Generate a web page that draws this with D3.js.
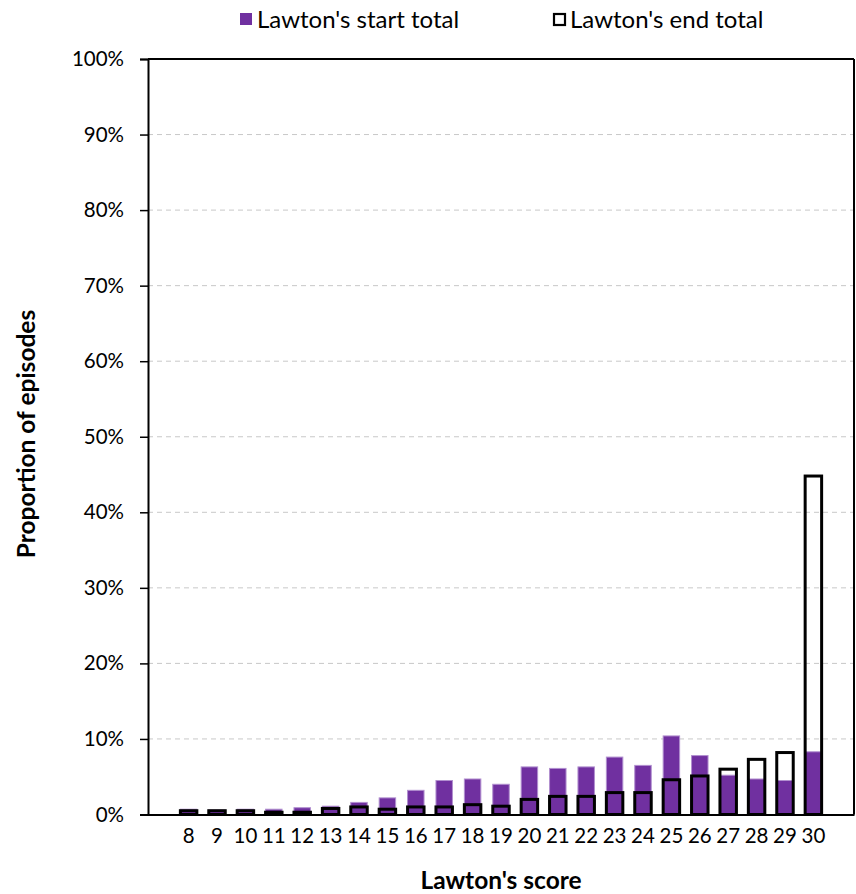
<!DOCTYPE html>
<html>
<head>
<meta charset="utf-8">
<script src="https://cdn.jsdelivr.net/npm/d3@7"></script>
<style>
  html, body { margin: 0; padding: 0; background: #fff; }
  svg { display: block; }
  text { font-family: Lato, "Open Sans", sans-serif; fill: #000; }
</style>
</head>
<body>
<svg id="chart" width="856" height="894"></svg>
<script>
const categories = ["8","9","10","11","12","13","14","15","16","17","18","19","20","21","22","23","24","25","26","27","28","29","30"];
const startTotal = [0.7,0.6,0.7,0.7,0.9,1.1,1.6,2.2,3.2,4.5,4.7,4.0,6.3,6.1,6.3,7.6,6.5,10.4,7.8,5.2,4.7,4.5,8.3];
const endTotal   = [0.5,0.5,0.5,0.3,0.3,0.8,1.0,0.7,1.0,1.0,1.3,1.1,2.0,2.4,2.4,2.9,2.9,4.6,5.1,6.0,7.3,8.2,44.8];
const yTicks = [0,10,20,30,40,50,60,70,80,90,100];
const seriesNames = ["Lawton's start total", "Lawton's end total"];

const svg = d3.select("#chart");
const plotLeft = 148, plotRight = 854, plotTop = 59, plotBottom = 814.5;

const x = d3.scaleBand().domain(categories).range([plotLeft, plotRight]).paddingInner(0.42).paddingOuter(1.14);
const y = d3.scaleLinear().domain([0, 100]).range([plotBottom, plotTop]);

// gridlines
svg.append("g").selectAll("line").data(yTicks.filter(t => t > 0 && t < 100)).join("line")
  .attr("x1", plotLeft).attr("x2", plotRight)
  .attr("y1", d => y(d)).attr("y2", d => y(d))
  .attr("stroke", "#c8c8c8").attr("stroke-width", 1).attr("stroke-dasharray", "5,4");

// start bars
svg.append("g").selectAll("rect").data(startTotal).join("rect")
  .attr("x", (d, i) => x(categories[i]))
  .attr("width", x.bandwidth())
  .attr("y", d => y(d))
  .attr("height", d => y(0) - y(d))
  .attr("fill", "#7030A0")
  .attr("stroke", "#b18fcf").attr("stroke-width", 1);

// end bars (outline)
svg.append("g").selectAll("rect").data(endTotal).join("rect")
  .attr("x", (d, i) => x(categories[i]))
  .attr("width", x.bandwidth())
  .attr("y", d => y(d))
  .attr("height", d => y(0) - y(d))
  .attr("fill", "none")
  .attr("stroke", "#000").attr("stroke-width", 3);

// frame
svg.append("line").attr("x1", plotLeft).attr("x2", plotRight).attr("y1", plotTop).attr("y2", plotTop).attr("stroke", "#000").attr("stroke-width", 2);
svg.append("line").attr("x1", plotRight).attr("x2", plotRight).attr("y1", plotTop).attr("y2", plotBottom).attr("stroke", "#000").attr("stroke-width", 2);

// y axis
const yAxis = d3.axisLeft(y).tickValues(yTicks).tickFormat(d => d + "%").tickSize(8).tickPadding(16);
const gy = svg.append("g").attr("transform", `translate(${plotLeft},0)`).call(yAxis);
gy.select(".domain").attr("stroke", "#000").attr("stroke-width", 2);
gy.selectAll(".tick line").attr("stroke", "#000").attr("stroke-width", 1.5);
gy.selectAll(".tick text").attr("font-size", 20.5).attr("font-weight", 400).attr("font-family", "Lato, sans-serif").attr("fill", "#000");

// x axis
const xAxis = d3.axisBottom(x).tickSize(0).tickPadding(14);
const gx = svg.append("g").attr("transform", `translate(0,${plotBottom})`).call(xAxis);
gx.select(".domain").attr("stroke", "#000").attr("stroke-width", 2);
gx.selectAll(".tick text").attr("font-size", 20.5).attr("font-weight", 400).attr("font-family", "Lato, sans-serif").attr("fill", "#000");

// axis titles
svg.append("text").attr("x", 501).attr("y", 889).attr("text-anchor", "middle")
  .attr("font-size", 24.5).attr("font-weight", "bold").text("Lawton's score");
svg.append("text").attr("transform", "translate(35,434) rotate(-90)").attr("text-anchor", "middle")
  .attr("font-size", 24.5).attr("font-weight", "bold").text("Proportion of episodes");

// legend
const lg = svg.append("g");
lg.append("rect").attr("x", 240).attr("y", 13).attr("width", 12).attr("height", 12).attr("fill", "#7030A0");
lg.append("text").attr("x", 257).attr("y", 28).attr("font-size", 24).attr("font-weight", 400).text(seriesNames[0]);
lg.append("rect").attr("x", 554).attr("y", 14).attr("width", 11).attr("height", 11).attr("fill", "none").attr("stroke", "#000").attr("stroke-width", 2.2);
lg.append("text").attr("x", 570).attr("y", 28).attr("font-size", 24).attr("font-weight", 400).text(seriesNames[1]);
</script>
</body>
</html>
